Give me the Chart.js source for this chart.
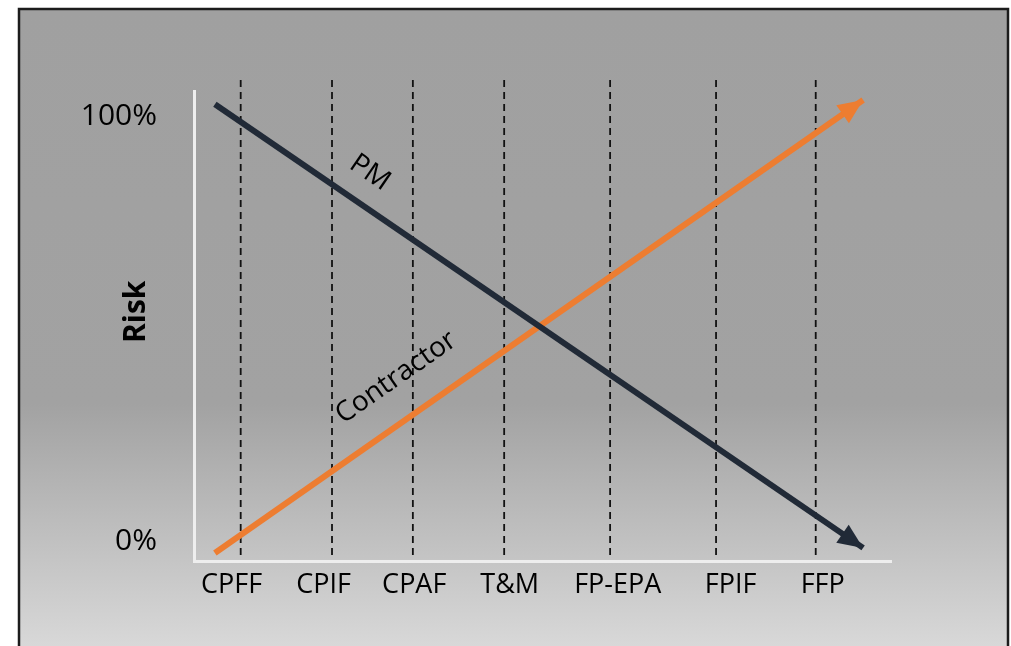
<!DOCTYPE html>
<html>
<head>
<meta charset="utf-8">
<script src="https://cdn.jsdelivr.net/npm/chart.js@4.4.1/dist/chart.umd.min.js"></script>
<style>
  html, body { margin: 0; padding: 0; background: #fff; }
  #wrap { width: 1011px; height: 646px; }
</style>
</head>
<body>
<div id="wrap"><canvas id="riskChart" width="1011" height="646"></canvas></div>
<script>
// contract types along the bottom, and where their labels / dashed dividers sit (0-100 scale)
const categories = ['CPFF', 'CPIF', 'CPAF', 'T&M', 'FP-EPA', 'FPIF', 'FFP'];
const categoryPos = [5.4, 18.6, 31.6, 45.3, 60.8, 77.0, 90.2];
const dividerPos = [6.7, 19.8, 31.4, 44.5, 59.7, 74.9, 89.2];
const dividerSpan = [108.5, -3.2];

// risk lines (start, arrow tip)
const pmX = [3.0, 96.0];
const pmY = [102.8, -1.5];
const contractorX = [3.0, 96.0];
const contractorY = [-2.7, 103.8];

const yTicks = [0, 100];
const yTickLabels = ['0%', '100%'];
const yTitle = 'Risk';

const FONT = "'Open Sans', 'DejaVu Sans', sans-serif";

// grey panel with the dark frame
const backdrop = {
    id: 'backdrop',
    beforeDraw(chart) {
        const ctx = chart.ctx;
        ctx.save();
        ctx.fillStyle = '#ffffff';
        ctx.fillRect(0, 0, chart.width, chart.height);
        const g = ctx.createLinearGradient(0, 9, 0, chart.height);
        g.addColorStop(0, '#a0a0a0');
        g.addColorStop(0.62, '#a2a2a2');
        g.addColorStop(1, '#d8d8d8');
        ctx.fillStyle = g;
        ctx.fillRect(19, 9, 989, chart.height);
        ctx.strokeStyle = '#1c1c1c';
        ctx.lineWidth = 2.5;
        ctx.strokeRect(19, 9, 989, chart.height + 10);
        ctx.restore();
    }
};

// arrow heads on the risk lines, the rotated PM / Contractor text and the axis title
const arrowsAndLabels = {
    id: 'arrowsAndLabels',
    afterDatasetsDraw(chart) {
        const ctx = chart.ctx;
        chart.data.datasets.forEach((ds, i) => {
            if (!ds.arrow) return;
            const pts = chart.getDatasetMeta(i).data;
            const a = pts[0];
            const b = pts[pts.length - 1];
            const ang = Math.atan2(b.y - a.y, b.x - a.x);

            ctx.save();
            ctx.translate(b.x, b.y);
            ctx.rotate(ang);
            ctx.fillStyle = ds.borderColor;
            ctx.beginPath();
            ctx.moveTo(0, 0);
            ctx.lineTo(-25, -11);
            ctx.lineTo(-25, 11);
            ctx.closePath();
            ctx.fill();
            ctx.restore();

            const px = a.x + (b.x - a.x) * ds.tagAt;
            const py = a.y + (b.y - a.y) * ds.tagAt;
            ctx.save();
            ctx.translate(px, py);
            ctx.rotate(ang);
            ctx.fillStyle = '#000';
            ctx.font = '28px ' + FONT;
            ctx.textAlign = 'center';
            ctx.textBaseline = 'middle';
            ctx.fillText(ds.label, 0, -ds.tagOffset);
            ctx.restore();
        });

        const y = chart.scales.y;
        ctx.save();
        ctx.translate(136, y.getPixelForValue(54));
        ctx.rotate(-Math.PI / 2);
        ctx.fillStyle = '#000';
        ctx.font = 'bold 30px ' + FONT;
        ctx.textAlign = 'center';
        ctx.textBaseline = 'middle';
        ctx.fillText(yTitle, 0, 0);
        ctx.restore();
    }
};

const datasets = [
    {
        label: 'PM',
        data: pmX.map((x, i) => ({ x: x, y: pmY[i] })),
        borderColor: '#212a37',
        borderWidth: 6,
        pointRadius: 0,
        arrow: true,
        tagAt: 0.212,
        tagOffset: 31,
        order: 0
    },
    {
        label: 'Contractor',
        data: contractorX.map((x, i) => ({ x: x, y: contractorY[i] })),
        borderColor: '#ed7d31',
        borderWidth: 6,
        pointRadius: 0,
        arrow: true,
        tagAt: 0.315,
        tagOffset: 40,
        order: 1
    }
];
dividerPos.forEach(p => {
    datasets.push({
        label: '',
        data: dividerSpan.map(y => ({ x: p, y: y })),
        borderColor: '#111',
        borderWidth: 1.8,
        borderDash: [7, 5],
        pointRadius: 0,
        clip: false,
        order: 2
    });
});

new Chart(document.getElementById('riskChart').getContext('2d'), {
    type: 'line',
    data: { datasets: datasets },
    plugins: [backdrop, arrowsAndLabels],
    options: {
        responsive: false,
        animation: false,
        devicePixelRatio: 1,
        layout: { padding: { left: 0, top: 91, right: 120, bottom: 0 } },
        plugins: {
            legend: { display: false },
            tooltip: { enabled: false }
        },
        scales: {
            x: {
                type: 'linear',
                min: 0,
                max: 100,
                afterBuildTicks: axis => {
                    axis.ticks = categoryPos.map(v => ({ value: v }));
                },
                afterFit: axis => { axis.height = 85; },
                grid: { display: false, drawTicks: false },
                border: { color: '#eeeeee', width: 3 },
                ticks: {
                    autoSkip: false,
                    maxRotation: 0,
                    padding: 8,
                    color: '#000',
                    font: { family: FONT, size: 27 },
                    callback: (value, index) => categories[index]
                }
            },
            y: {
                type: 'linear',
                min: -4.58,
                max: 105.9,
                afterBuildTicks: axis => {
                    axis.ticks = yTicks.map(v => ({ value: v }));
                },
                afterFit: axis => { axis.width = 194; },
                grid: { display: false, drawTicks: false },
                border: { color: '#eeeeee', width: 3 },
                ticks: {
                    padding: 37,
                    color: '#000',
                    font: { family: FONT, size: 30 },
                    callback: value => yTickLabels[yTicks.indexOf(value)]
                }
            }
        }
    }
});
</script>
</body>
</html>
